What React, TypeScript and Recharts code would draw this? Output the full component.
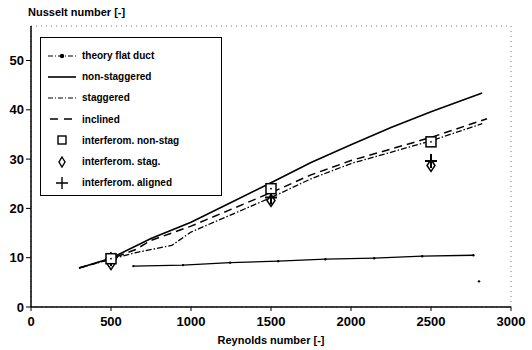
import {
  ComposedChart,
  Line,
  Scatter,
  XAxis,
  YAxis,
  CartesianGrid,
} from 'recharts'

const FONT = '"Liberation Sans", Arial, sans-serif'

const reTicks = [0, 500, 1000, 1500, 2000, 2500, 3000]
const nuTicks = [0, 10, 20, 30, 40, 50]

const theoryFlatDuct = [
  { re: 640, nu: 8.3 },
  { re: 950, nu: 8.5 },
  { re: 1245, nu: 9.0 },
  { re: 1545, nu: 9.3 },
  { re: 1840, nu: 9.7 },
  { re: 2145, nu: 9.9 },
  { re: 2445, nu: 10.3 },
  { re: 2765, nu: 10.5 },
]

const nonStaggered = [
  { re: 300, nu: 7.9 },
  { re: 500, nu: 9.9 },
  { re: 750, nu: 13.9 },
  { re: 1000, nu: 17.2 },
  { re: 1250, nu: 21.2 },
  { re: 1500, nu: 25.2 },
  { re: 1750, nu: 29.3 },
  { re: 2000, nu: 32.9 },
  { re: 2250, nu: 36.4 },
  { re: 2500, nu: 39.6 },
  { re: 2820, nu: 43.4 },
]

const staggered = [
  { re: 300, nu: 7.9 },
  { re: 500, nu: 9.7 },
  { re: 650, nu: 11.0 },
  { re: 880, nu: 12.5 },
  { re: 1000, nu: 15.2 },
  { re: 1250, nu: 18.7 },
  { re: 1500, nu: 22.2 },
  { re: 1750, nu: 26.0 },
  { re: 2000, nu: 29.1 },
  { re: 2500, nu: 33.7 },
  { re: 2820, nu: 37.2 },
]

const inclined = [
  { re: 300, nu: 7.9 },
  { re: 500, nu: 9.8 },
  { re: 650, nu: 11.6 },
  { re: 750, nu: 13.5 },
  { re: 1000, nu: 16.4 },
  { re: 1250, nu: 19.8 },
  { re: 1500, nu: 23.2 },
  { re: 1750, nu: 26.8 },
  { re: 2000, nu: 29.7 },
  { re: 2500, nu: 34.4 },
  { re: 2850, nu: 38.2 },
]

const interfNonStag = [
  { re: 500, nu: 9.8 },
  { re: 1500, nu: 24.0 },
  { re: 2500, nu: 33.5 },
]

const interfStag = [
  { re: 500, nu: 8.8 },
  { re: 1500, nu: 21.6 },
  { re: 2500, nu: 28.7 },
]

const interfAligned = [
  { re: 500, nu: 9.7 },
  { re: 1500, nu: 22.2 },
  { re: 2500, nu: 29.6 },
]

const strayDots = [{ re: 2800, nu: 5.2 }]

const legendLabels = [
  'theory flat duct',
  'non-staggered',
  'staggered',
  'inclined',
  'interferom. non-stag',
  'interferom. stag.',
  'interferom. aligned',
]

const SquareMark = (p: any) => (
  <g>
    <rect x={p.cx - 5} y={p.cy - 5} width={10} height={10} fill="#fff" stroke="#000" strokeWidth={1.5} />
    <circle cx={p.cx} cy={p.cy} r={0.9} fill="#000" />
  </g>
)

const DiamondMark = (p: any) => (
  <path
    d={`M${p.cx},${p.cy - 6} L${p.cx + 4},${p.cy} L${p.cx},${p.cy + 6} L${p.cx - 4},${p.cy} Z`}
    fill="#fff"
    stroke="#000"
    strokeWidth={1.5}
  />
)

const PlusMark = (p: any) => (
  <path
    d={`M${p.cx - 6},${p.cy} H${p.cx + 6} M${p.cx},${p.cy - 7} V${p.cy + 7}`}
    stroke="#000"
    strokeWidth={2}
  />
)

const DotMark = (p: any) => <circle cx={p.cx} cy={p.cy} r={1.2} fill="#000" />

function legendSymbol(i: number) {
  const y = 6
  switch (i) {
    case 0:
      return (
        <g stroke="#000" strokeWidth={1.2}>
          <line x1={2} y1={y} x2={30} y2={y} strokeDasharray="5 2 1 2" />
          <circle cx={16} cy={y} r={1.6} fill="#000" />
        </g>
      )
    case 1:
      return <line x1={2} y1={y} x2={30} y2={y} stroke="#000" strokeWidth={1.6} />
    case 2:
      return <line x1={2} y1={y} x2={30} y2={y} stroke="#000" strokeWidth={1.2} strokeDasharray="5 2 1 2" />
    case 3:
      return <line x1={4} y1={y} x2={30} y2={y} stroke="#000" strokeWidth={1.6} strokeDasharray="8 6" />
    case 4:
      return <rect x={12} y={y - 4} width={8} height={8} fill="#fff" stroke="#000" strokeWidth={1.4} />
    case 5:
      return <path d={`M16,${y - 5} L19,${y} L16,${y + 5} L13,${y} Z`} fill="#fff" stroke="#000" strokeWidth={1.4} />
    default:
      return <path d={`M10,${y} H22 M16,${y - 6} V${y + 6}`} stroke="#000" strokeWidth={1.4} />
  }
}

function LegendBox() {
  return (
    <div
      style={{
        position: 'absolute',
        left: 40,
        top: 37,
        border: '1.5px solid #000',
        background: '#fff',
        width: 182,
        height: 159,
        boxSizing: 'border-box',
        padding: '7px 0 0 5px',
        fontFamily: FONT,
        fontSize: 10,
        fontWeight: 'bold',
      }}
    >
      {legendLabels.map((label, i) => (
        <div key={label} style={{ display: 'flex', alignItems: 'center', height: 21.2 }}>
          <svg width={34} height={12} style={{ marginRight: 2 }}>
            {legendSymbol(i)}
          </svg>
          <span>{label}</span>
        </div>
      ))}
    </div>
  )
}

export default function App() {
  return (
    <div style={{ position: 'absolute', left: 0, top: 0, width: 532, height: 350, background: '#fff' }}>
      <ComposedChart width={532} height={350} margin={{ top: 26, right: 21, bottom: 0, left: 0 }}>
        <CartesianGrid stroke="#555" strokeDasharray="1 4" strokeWidth={0.8} />
        <XAxis
          xAxisId="b"
          dataKey="re"
          type="number"
          domain={[0, 3000]}
          ticks={reTicks}
          height={43}
          tickSize={4}
          tickMargin={6}
          tick={{ fontSize: 13, fontWeight: 'bold', fill: '#000', fontFamily: FONT }}
          axisLine={{ stroke: '#000', strokeWidth: 1.5 }}
          tickLine={{ stroke: '#000' }}
          allowDataOverflow
        />
        <XAxis xAxisId="t" orientation="top" type="number" domain={[0, 3000]} height={0} tick={false} axisLine={{ stroke: '#000', strokeWidth: 1.5 }} tickLine={false} />
        <YAxis
          yAxisId="l"
          type="number"
          domain={[0, 57]}
          ticks={nuTicks}
          width={31}
          tickSize={5}
          tickMargin={2}
          tick={{ fontSize: 13, fontWeight: 'bold', fill: '#000', fontFamily: FONT }}
          axisLine={{ stroke: '#000', strokeWidth: 1.5 }}
          tickLine={{ stroke: '#000' }}
          allowDataOverflow
        />
        <YAxis yAxisId="r" orientation="right" type="number" domain={[0, 57]} width={0} tick={false} axisLine={{ stroke: '#000', strokeWidth: 2 }} tickLine={false} />

        <Line xAxisId="b" yAxisId="l" data={theoryFlatDuct} dataKey="nu" stroke="#000" strokeWidth={1.3} dot={<DotMark />} isAnimationActive={false} />
        <Line xAxisId="b" yAxisId="l" data={nonStaggered} dataKey="nu" stroke="#000" strokeWidth={1.6} dot={false} isAnimationActive={false} />
        <Line xAxisId="b" yAxisId="l" data={staggered} dataKey="nu" stroke="#000" strokeWidth={1.3} strokeDasharray="6 2 1.5 2" dot={false} isAnimationActive={false} />
        <Line xAxisId="b" yAxisId="l" data={inclined} dataKey="nu" stroke="#000" strokeWidth={1.5} strokeDasharray="8 5" dot={false} isAnimationActive={false} />
        <Scatter xAxisId="b" yAxisId="l" data={interfStag} dataKey="nu" shape={DiamondMark} isAnimationActive={false} />
        <Scatter xAxisId="b" yAxisId="l" data={interfAligned} dataKey="nu" shape={PlusMark} isAnimationActive={false} />
        <Scatter xAxisId="b" yAxisId="l" data={interfNonStag} dataKey="nu" shape={SquareMark} isAnimationActive={false} />
        <Scatter xAxisId="b" yAxisId="l" data={strayDots} dataKey="nu" shape={DotMark} isAnimationActive={false} />

        <text x={28} y={16} fontFamily={FONT} fontSize={11} fontWeight="bold" fill="#000">
          Nusselt number [-]
        </text>
        <text x={271} y={344} textAnchor="middle" fontFamily={FONT} fontSize={11} fontWeight="bold" fill="#000">
          Reynolds number [-]
        </text>
      </ComposedChart>
      <LegendBox />
    </div>
  )
}
